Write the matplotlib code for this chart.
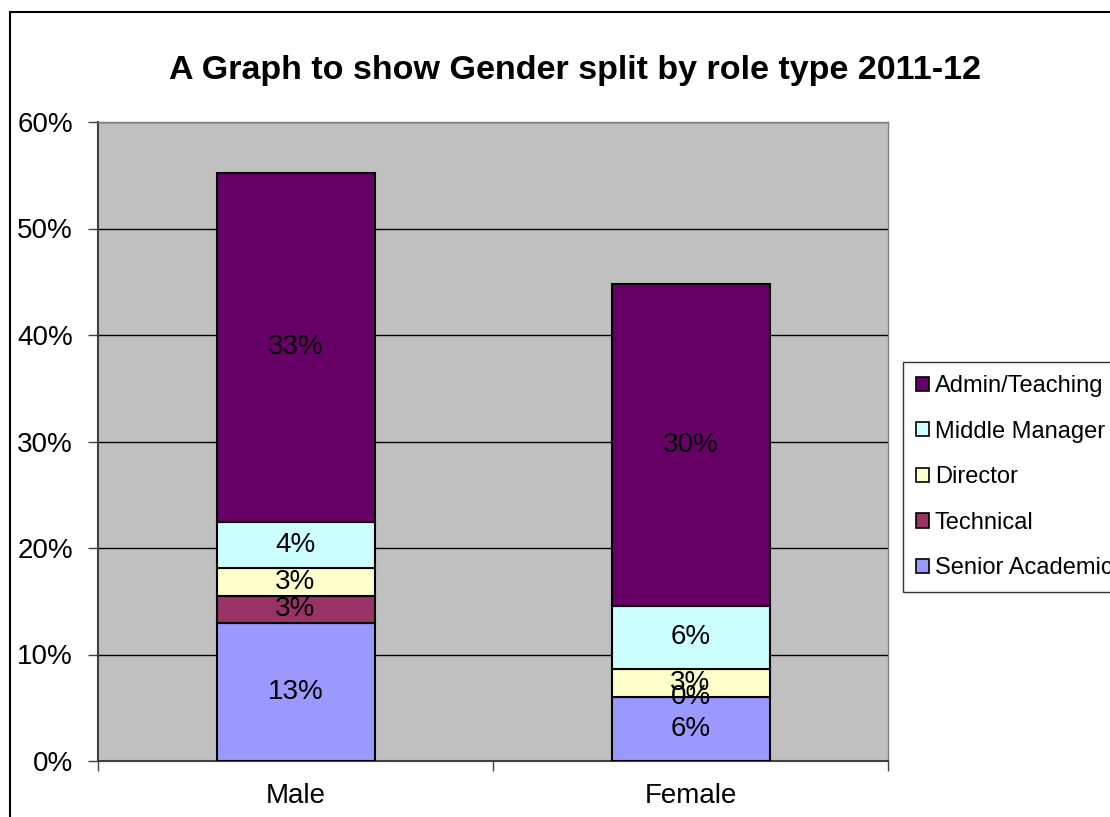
import matplotlib
matplotlib.use("Agg")
import matplotlib.pyplot as plt
from matplotlib.patches import Rectangle, Patch
import numpy as np

categories = ["Male", "Female"]
series_names = ["Senior Academic", "Technical", "Director", "Middle Manager", "Admin/Teaching"]
senior_academic = [12.96, 6.05]
technical = [2.54, 0.0]
director = [2.63, 2.63]
middle_manager = [4.32, 5.92]
admin_teaching = [32.8, 30.2]
series_values = [senior_academic, technical, director, middle_manager, admin_teaching]
series_labels = [["13%", "6%"], ["3%", "0%"], ["3%", "3%"], ["4%", "6%"], ["33%", "30%"]]
colors = ["#9999FF", "#993366", "#FFFFCC", "#CCFFFF", "#660066"]
yticks = [0, 10, 20, 30, 40, 50, 60]
ytick_labels = ["0%", "10%", "20%", "30%", "40%", "50%", "60%"]

plt.rcParams['font.family'] = ['Liberation Sans', 'DejaVu Sans']

fig = plt.figure(figsize=(11.1, 8.17), dpi=100)
W, H = 1110, 817
ax = fig.add_axes([98 / W, 1 - 761 / H, (888 - 98) / W, (761 - 122) / H])
ax.set_facecolor("#C0C0C0")

x = np.arange(len(categories))
bottom = np.zeros(len(categories))
for name, vals, labs, c in zip(series_names, series_values, series_labels, colors):
    vals = np.array(vals)
    ax.bar(x, vals, bottom=bottom, width=0.40, color=c, edgecolor="black", linewidth=1.5, zorder=3)
    for xi, v, b, lab in zip(x, vals, bottom, labs):
        ax.text(xi, b + v / 2, lab, ha="center", va="center", fontsize=20, color="black", zorder=4)
    bottom += vals

ax.set_xlim(-0.5, 1.5)
ax.set_ylim(0, 60)
ax.set_yticks(yticks)
ax.set_yticklabels(ytick_labels, fontsize=20)
ax.yaxis.grid(True, color="black", linewidth=1.0, zorder=1)
ax.set_axisbelow(True)
ax.set_xticks(x)
ax.set_xticklabels(categories, fontsize=20)
ax.set_xticks([-0.5, 0.5, 1.5], minor=True)
ax.tick_params(axis="x", which="major", length=0, pad=16)
ax.tick_params(axis="x", which="minor", length=7, width=1, color="#404040")
ax.tick_params(axis="y", length=7, width=1, color="#404040", pad=11)
for s in ["left", "bottom"]:
    ax.spines[s].set_color("#404040")
    ax.spines[s].set_linewidth(1.5)
for s in ["top", "right"]:
    ax.spines[s].set_color("#808080")
    ax.spines[s].set_linewidth(1.0)

fig.text(575 / W, 1 - 70 / H, "A Graph to show Gender split by role type 2011-12",
         ha="center", va="center", fontsize=24.5, fontweight="bold")

handles = [Patch(facecolor=c, edgecolor="black", linewidth=1.2) for c in colors[::-1]]
leg = fig.legend(handles, series_names[::-1], loc="upper left",
                 bbox_to_anchor=(903 / W, 1 - 362 / H), fontsize=17,
                 frameon=True, fancybox=False, edgecolor="black",
                 handlelength=0.55, handleheight=0.55, handletextpad=0.25,
                 labelspacing=1.0, borderpad=0.55, borderaxespad=0)
leg.get_frame().set_linewidth(1.0)

border = Rectangle((10 / W, -0.1), 1.2, (1 - 12 / H) + 0.1, transform=fig.transFigure,
                   facecolor="none", edgecolor="black", linewidth=1.5, clip_on=False)
fig.patches.append(border)

fig.savefig("out.png", dpi=100)
